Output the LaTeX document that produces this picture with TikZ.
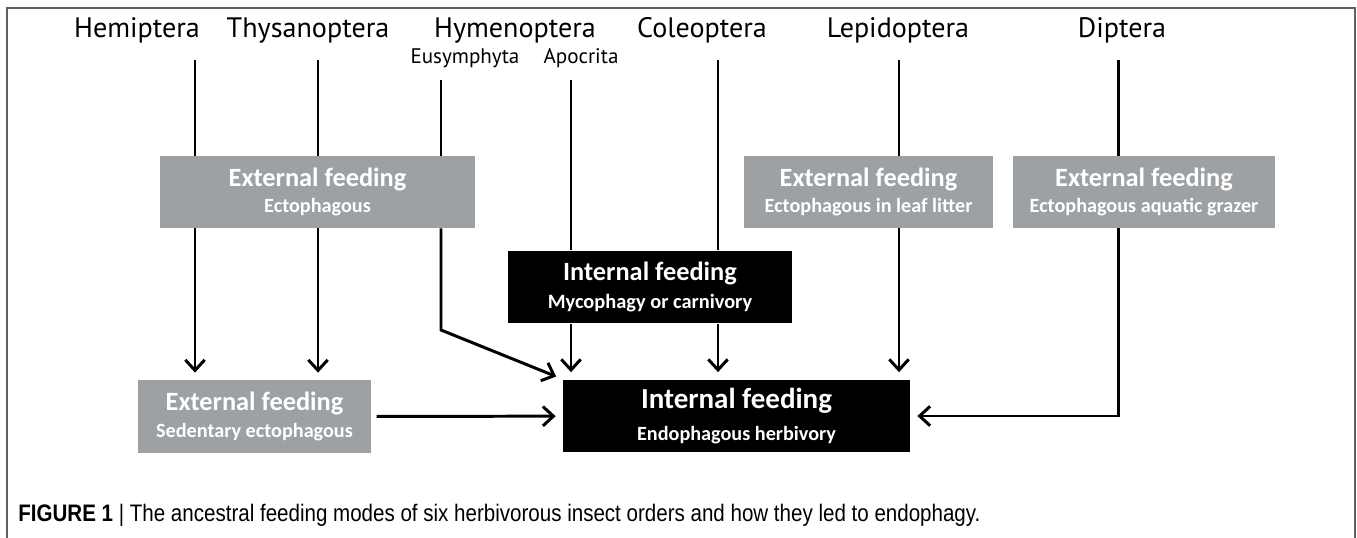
\documentclass[tikz,border=0pt]{standalone}
\usepackage{fontspec}
\setmainfont{PT Sans}
\newfontfamily\boxfont{Carlito}
\newfontfamily\capfont[FakeStretch=0.86]{Liberation Sans}
\usetikzlibrary{arrows.meta,positioning}
\definecolor{boxgray}{RGB}{158,161,163}
\definecolor{framegray}{RGB}{95,95,95}

\begin{document}
\begin{tikzpicture}[x=0.02cm,y=-0.02cm,
  order/.style = {anchor=base, inner sep=0pt, font=\fontsize{16}{18}\selectfont},
  clade/.style = {anchor=base, inner sep=0pt, font=\fontsize{12}{14}\selectfont},
  ext/.style = {fill=boxgray, text=white, inner sep=0pt, align=center, minimum height=1.44cm, font=\boxfont\bfseries\fontsize{11.5}{15.3}\selectfont},
  int/.style = {fill=black, text=white, inner sep=0pt, align=center, minimum height=1.46cm, font=\boxfont\bfseries\fontsize{11.6}{16}\selectfont},
  link/.style = {line width=1.7pt},
  arr/.style = {line width=1.7pt, -{Straight Barb[length=6pt,width=11pt]}, shorten >=4pt}]
          \useasboundingbox (0,0) rectangle (1357,538);
          \draw[framegray, line width=1.2pt] (7,538) -- (7,8) -- (1355,8) -- (1355,538);
          \node[order] (hem) at (137,37) {Hemiptera};
          \node[order] (thy) at (308,37) {Thysanoptera};
          \node[order] (hym) at (515,37) {Hymenoptera};
          \node[order] (col) at (702,37) {Coleoptera};
          \node[order] (lep) at (898,37) {Lepidoptera};
          \node[order] (dip) at (1122,37) {Diptera};
          \node[clade] (eus) at (465,63) {Eusymphyta};
          \node[clade] (apo) at (581,63) {Apocrita};
          \node[ext, minimum width=6.3cm] (ecto) at (317.5,192) {{\fontsize{15}{15.3}\selectfont External feeding}\\Ectophagous};
          \node[ext, minimum width=4.98cm] (lit) at (868.5,192) {{\fontsize{15}{15.3}\selectfont External feeding}\\Ectophagous in leaf litter};
          \node[ext, minimum width=5.24cm] (aqua) at (1144,192) {{\fontsize{15}{15.3}\selectfont External feeding}\\Ectophagous aquatic grazer};
          \node[int, minimum width=5.68cm] (myco) at (650,287) {{\fontsize{15}{16}\selectfont Internal feeding}\\Mycophagy or carnivory};
          \node[ext, minimum width=4.66cm, minimum height=1.46cm] (sed) at (254.5,416.5) {{\fontsize{15}{15.3}\selectfont External feeding}\\Sedentary ectophagous};
          \node[int, minimum width=6.94cm, font=\boxfont\bfseries\fontsize{11.5}{18}\selectfont] (big) at (736.5,416) {{\fontsize{16.5}{18}\selectfont Internal feeding}\\Endophagous herbivory};
          \coordinate (h1) at (195,60);
          \coordinate (t1) at (318,60);
          \coordinate (e1) at (441,80);
          \coordinate (e2) at (441,330);
          \coordinate (a1) at (571,80);
          \coordinate (c1) at (718,60);
          \coordinate (l1) at (899,60);
          \coordinate (d1) at (1118,60);
          \draw[link] (h1) -- (h1 |- ecto.north);
          \draw[arr] (h1 |- ecto.south) -- (h1 |- sed.north);
          \draw[link] (t1) -- (t1 |- ecto.north);
          \draw[arr] (t1 |- ecto.south) -- (t1 |- sed.north);
          \draw[link] (e1) -- (e1 |- ecto.north);
          \draw[arr] (e1 |- ecto.south) -- (e2) -- (big.north west);
          \draw[link] (a1) -- (a1 |- myco.north);
          \draw[arr] (a1 |- myco.south) -- (a1 |- big.north);
          \draw[link] (c1) -- (c1 |- myco.north);
          \draw[arr] (c1 |- myco.south) -- (c1 |- big.north);
          \draw[link] (l1) -- (l1 |- lit.north);
          \draw[arr] (l1 |- lit.south) -- (l1 |- big.north);
          \draw[link] (d1) -- (d1 |- aqua.north);
          \draw[arr] (d1 |- aqua.south) |- (big.east);
          \draw[arr, shorten <=3pt] (sed) -- (big);
          \node[anchor=base west, inner sep=0pt, font=\capfont\fontsize{13.6}{16}\selectfont] (cap) at (18,521) {\textbf{FIGURE 1} | The ancestral feeding modes of six herbivorous insect orders and how they led to endophagy.};
        \end{tikzpicture}
\end{document}
